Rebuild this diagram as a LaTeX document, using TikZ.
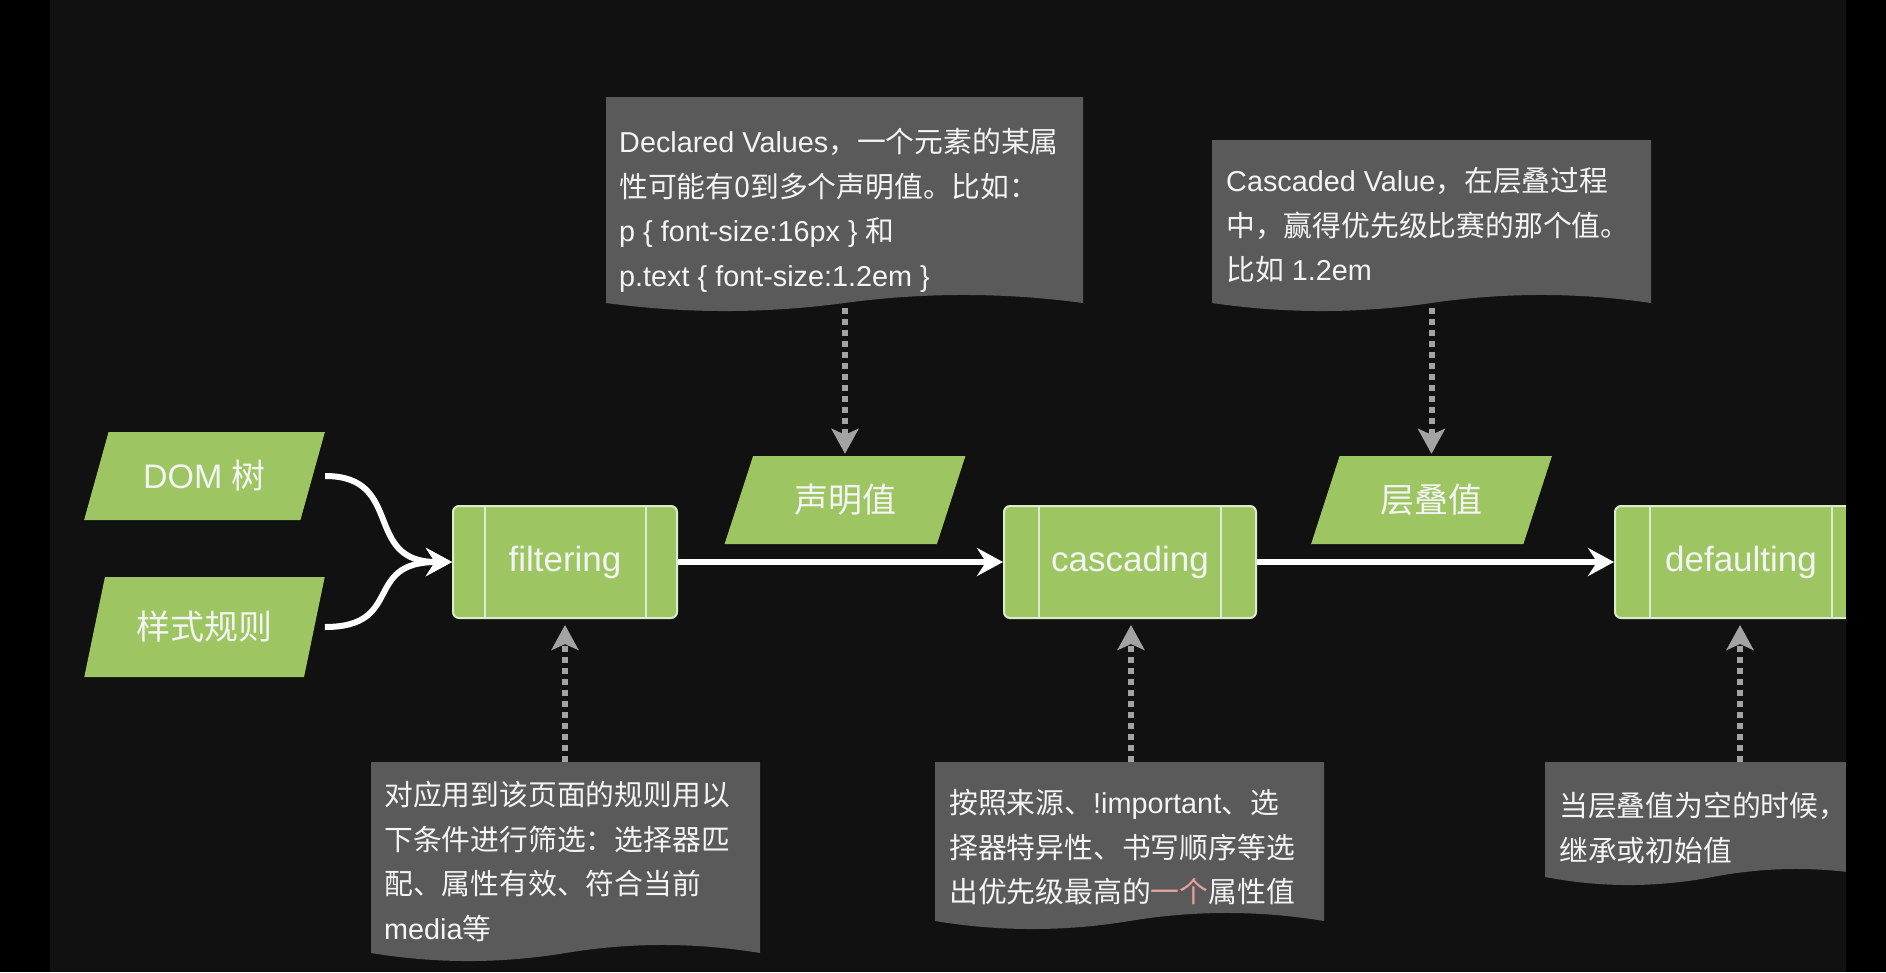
\documentclass[tikz,border=0pt]{standalone}
\usepackage{fontspec}
\setmainfont{Liberation Sans}
\newfontfamily\cjk{Noto Sans CJK SC}
\usetikzlibrary{shapes.geometric,arrows.meta}
\definecolor{bgc}{HTML}{111111}
\definecolor{grn}{HTML}{9DC663}
\definecolor{grnline}{HTML}{DCEBCB}
\definecolor{notec}{HTML}{5A5A5A}
\definecolor{dashc}{HTML}{A3A3A3}
\definecolor{pinkc}{HTML}{E5A0A0}
\definecolor{txtc}{HTML}{F4F4F4}
% wavy "document" background: left, top, right, bottom mid-line
\newcommand\notebg[4]{%
  \fill[notec] (#1,#2) -- (#3,#2) -- (#3,#4)
    .. controls ({#3-(#3-#1)/6},{#4-10.7}) and ({#3-(#3-#1)/3},{#4-10.7}) .. ({(#1+#3)/2},#4)
    .. controls ({#1+(#3-#1)/3},{#4+10.7}) and ({#1+(#3-#1)/6},{#4+10.7}) .. (#1,#4) -- cycle;}
\begin{document}
\begin{tikzpicture}[x=1pt,y=-1pt,
  procbox/.style={rectangle, rounded corners=6pt, fill=grn, draw=grnline, line width=2pt,
    minimum height=112pt, text=txtc, font=\fontsize{35}{40}\selectfont, inner sep=0pt},
  databox/.style={trapezium, trapezium stretches=true, fill=grn, draw=none,
    minimum height=88pt, minimum width=241pt, text=txtc, font=\fontsize{34}{40}\selectfont,
    inner sep=0pt, trapezium left angle=63.4, trapezium right angle=116.6},
  notetext/.style={anchor=north west, align=left, inner sep=0pt, text=txtc,
    font=\fontsize{28.8}{44.7}\selectfont},
  flow/.style={draw=white, line width=6pt, -{Stealth[length=26pt,width=28pt,inset=9pt]}},
  hint/.style={draw=dashc, line width=6pt, dash pattern=on 6pt off 5pt,
    -{Stealth[length=25pt,width=27pt,inset=6pt]}},
  sep/.style={draw=grnline, line width=2pt},
]
\useasboundingbox (0,0) rectangle (1886,972);
\fill[bgc] (0,0) rectangle (1886,972);

% notes backgrounds
\notebg{606}{97}{1083}{303}
\notebg{1212}{140}{1651}{303}
\notebg{371}{762}{760}{953}
\notebg{935}{762}{1324}{921}
\notebg{1545}{762}{1880}{877}

% note texts
\node[notetext] (declNote) at (619,121) {\strut Declared Values{\cjk ，一个元素的某属}\\{\cjk 性可能有0到多个声明值。比如：}\\p \{ font-size:16px \} {\cjk 和}\\p.text \{ font-size:1.2em \}};
\node[notetext] (cascNote) at (1226,160) {\strut Cascaded Value{\cjk ，在层叠过程}\\{\cjk 中，赢得优先级比赛的那个值。}\\{\cjk 比如} 1.2em};
\node[notetext] (filtNote) at (384,774) {\strut{\cjk 对应用到该页面的规则用以}\\{\cjk 下条件进行筛选：选择器匹}\\{\cjk 配、属性有效、符合当前}\\media{\cjk 等}};
\node[notetext] (cascBotNote) at (949,782) {\strut{\cjk 按照来源、}!important{\cjk 、选}\\{\cjk 择器特异性、书写顺序等选}\\{\cjk 出优先级最高的\textcolor{pinkc}{一个}属性值}};
\node[notetext] (defNote) at (1559,785) {\strut{\cjk 当层叠值为空的时候，}\\{\cjk 继承或初始值}};

% data (parallelograms)
\node[databox] (dom) at (204.5,476) {DOM {\cjk 树}};
\node[databox, minimum height=100pt, trapezium left angle=65.8, trapezium right angle=114.2] (rules) at (204.5,627) {{\cjk 样式规则}};
\node[databox] (decl) at (845,500) {{\cjk 声明值}};
\node[databox] (layv) at (1431.5,500) {{\cjk 层叠值}};

% process boxes
\node[procbox, minimum width=224pt] (filt) at (565,562) {filtering};
\node[procbox, minimum width=252pt] (casc) at (1130,562) {cascading};
\node[procbox, minimum width=252pt] (deflt) at (1741,562) {defaulting};
\draw[sep] ([xshift=33pt]filt.north west) -- ([xshift=33pt]filt.south west);
\draw[sep] ([xshift=-32pt]filt.north east) -- ([xshift=-32pt]filt.south east);
\draw[sep] ([xshift=36pt]casc.north west) -- ([xshift=36pt]casc.south west);
\draw[sep] ([xshift=-36pt]casc.north east) -- ([xshift=-36pt]casc.south east);
\draw[sep] ([xshift=36pt]deflt.north west) -- ([xshift=36pt]deflt.south west);
\draw[sep] ([xshift=-36pt]deflt.north east) -- ([xshift=-36pt]deflt.south east);

% main flow
\draw[flow] (dom.top right corner |- dom.east) .. controls +(80,0) and +(-90,0) .. (filt.west);
\draw[flow] (rules.top right corner |- rules.east) .. controls +(80,0) and +(-90,0) .. (filt.west);
\draw[flow] (filt) -- (casc);
\draw[flow] (casc) -- (deflt);

% hints
\coordinate (declTail) at (845,308);
\coordinate (cascTail) at (1431.5,308);
\coordinate (filtTail) at (565,762);
\coordinate (cascBotTail) at (1131,762);
\coordinate (defTail) at (1740,762);
\draw[hint, shorten >=2pt] (declTail) -- (declTail |- decl.north);
\draw[hint, shorten >=2pt] (cascTail) -- (cascTail |- layv.north);
\draw[hint, shorten >=6pt] (filtTail) -- (filt.south);
\draw[hint, shorten >=6pt] (cascBotTail) -- (cascBotTail |- casc.south);
\draw[hint, shorten >=6pt] (defTail) -- (defTail |- deflt.south);

% black side strips of the screenshot
\fill[black] (0,0) rectangle (50,972);
\fill[black] (1846,0) rectangle (1886,972);
\end{tikzpicture}
\end{document}
